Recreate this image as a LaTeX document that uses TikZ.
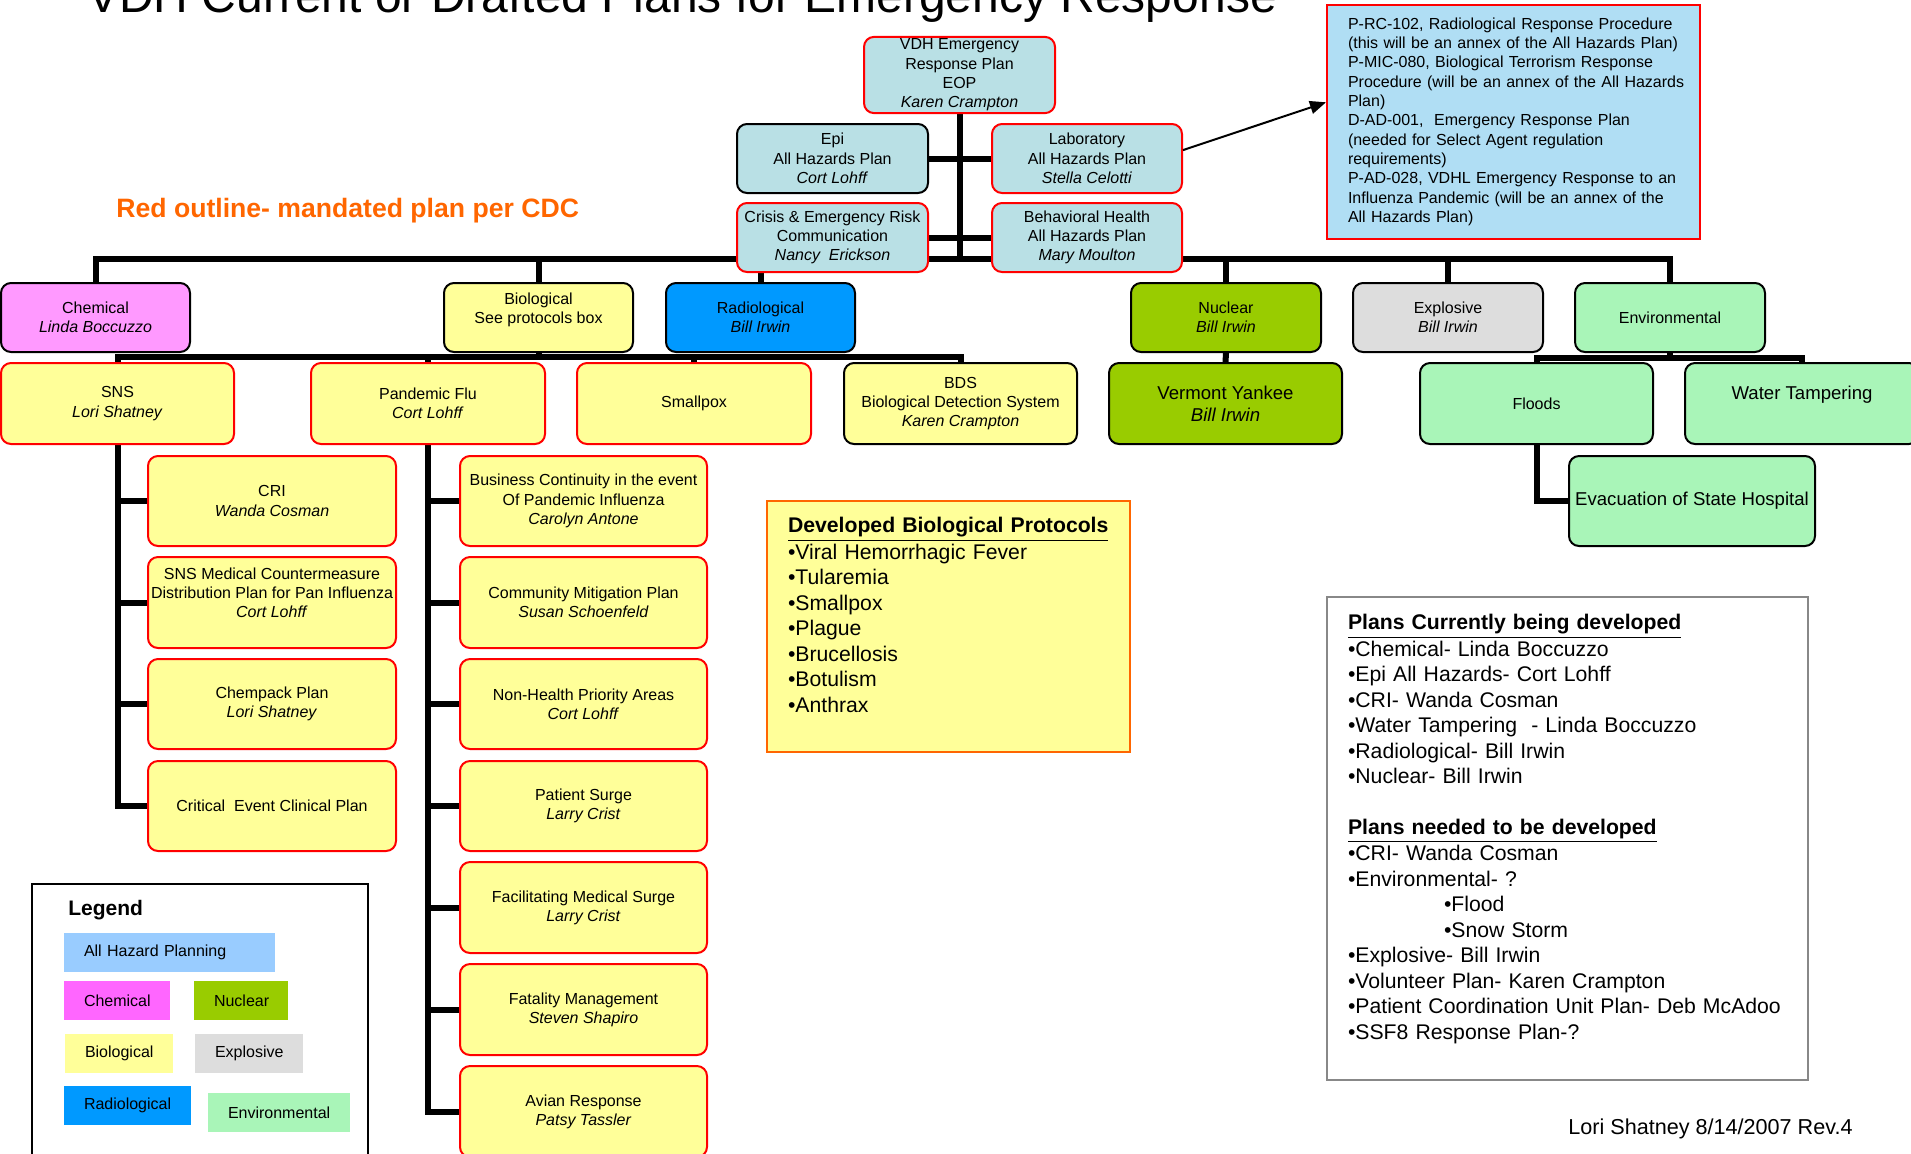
\documentclass[tikz,border=0pt]{standalone}
\usepackage{fontspec}
\setmainfont{Liberation Sans}
\usetikzlibrary{arrows.meta,backgrounds}
\definecolor{tealc}{RGB}{185,224,229}
\definecolor{prcblue}{RGB}{176,222,244}
\definecolor{chemc}{RGB}{255,153,255}
\definecolor{bioc}{RGB}{255,255,153}
\definecolor{radc}{RGB}{0,153,255}
\definecolor{nucc}{RGB}{153,204,0}
\definecolor{expc}{RGB}{221,221,221}
\definecolor{envc}{RGB}{169,245,184}
\definecolor{legchem}{RGB}{255,102,255}
\definecolor{legall}{RGB}{153,204,255}
\definecolor{orangec}{RGB}{255,102,0}
\definecolor{redc}{RGB}{255,0,0}
\definecolor{grayc}{RGB}{136,136,136}
\tikzset{
  bx/.style={rounded corners=5pt, line width=1pt, align=center, inner sep=1pt,
             font=\fontsize{8}{9.65}\selectfont},
  rb/.style={bx, draw=redc},
  kb/.style={bx, draw=black},
  bigtxt/.style={font=\fontsize{9.3}{11}\selectfont},
  conn/.style={line width=3pt},
  swatch/.style={draw=none, inner ysep=0pt, font=\fontsize{8}{9.65}\selectfont},
  textpanel/.style={inner ysep=0pt},
}
\newcommand\pbox[7]{%
  \pgfmathsetlengthmacro\myBW{(#4-#2)*0.5pt}%
  \pgfmathsetlengthmacro\myBH{(#5-#3)*0.5pt}%
  \node[#6, minimum width=\myBW, minimum height=\myBH] (#1) at ({(#2+#4)/2},{(#3+#5)/2}) {#7};}
\newcommand\tbox[8]{%
  \pgfmathsetlengthmacro\myBW{(#4-#2)*0.5pt}%
  \pgfmathsetlengthmacro\myBH{(#5-#3)*0.5pt}%
  \pgfmathsetlengthmacro\myTW{(#4-#2-2*#7)*0.5pt}%
  \pgfmathsetlengthmacro\myIS{#7*0.5pt}%
  \node[#6, minimum width=\myBW, minimum height=\myBH, text width=\myTW, inner xsep=\myIS, align=left] (#1) at ({(#2+#4)/2},{(#3+#5)/2}) {#8};}
\begin{document}
\begin{tikzpicture}[x=0.5pt,y=-0.5pt]
\clip (0,0) rectangle (1911,1153);
\useasboundingbox (0,0) rectangle (1911,1153);

% title and notes
\node[anchor=base, inner sep=0, font=\fontsize{24}{28}\selectfont] (title) at (682,12) {VDH Current or Drafted Plans for Emergency Response};
\node[anchor=base west, inner sep=0, text=orangec, font=\fontsize{13.3}{16}\selectfont\bfseries] (rednote) at (116,217) {Red outline- mandated plan per CDC};
\node[anchor=base west, inner sep=0, font=\fontsize{10.8}{13}\selectfont] (author) at (1568,1134) {Lori Shatney 8/14/2007 Rev.4};

% top level
\pbox{root}{864}{37}{1055}{113}{rb, fill=tealc}{VDH Emergency\\Response Plan\\EOP\\\textit{Karen Crampton}}
\pbox{epi}{737}{124}{928}{193}{kb, fill=tealc}{Epi\\All Hazards Plan\\\textit{Cort Lohff}}
\pbox{lab}{992}{124}{1182}{193}{rb, fill=tealc}{Laboratory\\All Hazards Plan\\\textit{Stella Celotti}}
\pbox{crisis}{737}{203}{928}{272}{rb, fill=tealc}{Crisis \& Emergency Risk\\Communication\\\textit{Nancy\ \ Erickson}}
\pbox{behav}{992}{203}{1182}{272}{rb, fill=tealc}{Behavioral Health\\All Hazards Plan\\\textit{Mary Moulton}}

% procedures box
\tbox{prc}{1327}{5}{1700}{239}{textpanel, draw=redc, line width=1pt, fill=prcblue, font=\fontsize{8}{9.65}\selectfont}{21}{\begin{tabular}{@{}l@{}}P-RC-102, Radiological Response Procedure\\(this will be an annex of the All Hazards Plan)\\P-MIC-080, Biological Terrorism Response\\Procedure (will be an annex of the All Hazards\\Plan)\\D-AD-001,\ \ Emergency Response Plan\\(needed for Select Agent regulation\\requirements)\\P-AD-028, VDHL Emergency Response to an\\Influenza Pandemic (will be an annex of the\\All Hazards Plan)\end{tabular}}

% categories
\pbox{chem}{1}{283}{190}{352}{kb, fill=chemc}{Chemical\\\textit{Linda Boccuzzo}}
\pbox{bio}{444}{283}{633}{352}{kb, fill=bioc}{Biological\\See protocols box\\\mbox{}}
\pbox{rad}{666}{283}{855}{352}{kb, fill=radc}{Radiological\\\textit{Bill Irwin}}
\pbox{nuc}{1131}{283}{1321}{352}{kb, fill=nucc}{Nuclear\\\textit{Bill Irwin}}
\pbox{exp}{1353}{283}{1543}{352}{kb, fill=expc}{Explosive\\\textit{Bill Irwin}}
\pbox{env}{1575}{283}{1765}{352}{kb, fill=envc}{Environmental}

% second row
\pbox{sns}{1}{363}{234}{444}{rb, fill=bioc}{SNS\\\textit{Lori Shatney}}
\pbox{pan}{311}{363}{545}{444}{rb, fill=bioc}{Pandemic Flu\\\textit{Cort Lohff}}
\pbox{spx}{577}{363}{811}{444}{rb, fill=bioc}{Smallpox}
\pbox{bds}{844}{363}{1077}{444}{kb, fill=bioc}{BDS\\Biological Detection System\\\textit{Karen Crampton}}
\pbox{vy}{1109}{363}{1342}{444}{kb, fill=nucc, bigtxt}{Vermont Yankee\\\textit{Bill Irwin}}
\pbox{floods}{1420}{363}{1653}{444}{kb, fill=envc}{Floods}
\pbox{water}{1685}{363}{1919}{444}{kb, fill=envc, bigtxt}{Water Tampering\\\mbox{}}
\pbox{evac}{1569}{456}{1815}{546}{kb, fill=envc, bigtxt}{Evacuation of State Hospital}

% SNS children
\pbox{cri}{148}{456}{396}{546}{rb, fill=bioc}{CRI\\\textit{Wanda Cosman}}
\pbox{snsmed}{148}{557}{396}{648}{rb, fill=bioc}{SNS Medical Countermeasure\\Distribution Plan for Pan Influenza\\\textit{Cort Lohff}\\\mbox{}}
\pbox{chempack}{148}{659}{396}{749}{rb, fill=bioc}{Chempack Plan\\\textit{Lori Shatney}}
\pbox{critical}{148}{761}{396}{851}{rb, fill=bioc}{Critical\ \ Event Clinical Plan}

% Pandemic children
\pbox{business}{460}{456}{707}{546}{rb, fill=bioc}{Business Continuity in the event\\Of Pandemic Influenza\\\textit{Carolyn Antone}}
\pbox{community}{460}{557}{707}{648}{rb, fill=bioc}{Community Mitigation Plan\\\textit{Susan Schoenfeld}}
\pbox{nonhealth}{460}{659}{707}{749}{rb, fill=bioc}{Non-Health Priority Areas\\\textit{Cort Lohff}}
\pbox{psurge}{460}{761}{707}{851}{rb, fill=bioc}{Patient Surge\\\textit{Larry Crist}}
\pbox{facil}{460}{862}{707}{953}{rb, fill=bioc}{Facilitating Medical Surge\\\textit{Larry Crist}}
\pbox{fatal}{460}{964}{707}{1055}{rb, fill=bioc}{Fatality Management\\\textit{Steven Shapiro}}
\pbox{avian}{460}{1066}{707}{1157}{rb, fill=bioc}{Avian Response\\\textit{Patsy Tassler}}

% protocols box
\tbox{protocols}{767}{501}{1130}{752}{textpanel, draw=orangec, line width=1pt, fill=bioc, font=\fontsize{10.6}{12.75}\selectfont}{21}{\begin{tabular}{@{}l@{}}\underline{\textbf{Developed Biological Protocols}}\\•Viral Hemorrhagic Fever\\•Tularemia\\•Smallpox\\•Plague\\•Brucellosis\\•Botulism\\•Anthrax\\[9pt]\end{tabular}}

% plans box
\tbox{plans}{1327}{597}{1808}{1080}{textpanel, draw=grayc, line width=0.8pt, font=\fontsize{10.6}{12.75}\selectfont}{21}{\begin{tabular}{@{}l@{}}\underline{\textbf{Plans Currently being developed}}\\•Chemical- Linda Boccuzzo\\•Epi All Hazards- Cort Lohff\\•CRI- Wanda Cosman\\•Water Tampering\ \ - Linda Boccuzzo\\•Radiological- Bill Irwin\\•Nuclear- Bill Irwin\\[12.75pt]\underline{\textbf{Plans needed to be developed}}\\•CRI- Wanda Cosman\\•Environmental- ?\\\hspace*{48pt}•Flood\\\hspace*{48pt}•Snow Storm\\•Explosive- Bill Irwin\\•Volunteer Plan- Karen Crampton\\•Patient Coordination Unit Plan- Deb McAdoo\\•SSF8 Response Plan-?\\[9pt]\end{tabular}}

% legend
\pbox{legend}{32}{884}{368}{1170}{draw=black, line width=1pt, inner sep=0pt}{}
\node[anchor=base west, inner sep=0, font=\fontsize{10.5}{12.6}\selectfont\bfseries] (legendtitle) at (68,915) {Legend};
\tbox{lall}{64}{933}{275}{972}{swatch, fill=legall}{20}{All Hazard Planning}
\tbox{lchem}{64}{981}{170}{1020}{swatch, fill=legchem}{20}{Chemical}
\tbox{lnuc}{194}{981}{288}{1020}{swatch, fill=nucc}{20}{Nuclear}
\tbox{lbio}{65}{1034}{173}{1073}{swatch, fill=bioc}{20}{Biological}
\tbox{lexp}{195}{1034}{303}{1073}{swatch, fill=expc}{20}{Explosive}
\tbox{lrad}{64}{1086}{191}{1125}{swatch, fill=radc}{20}{Radiological}
\tbox{lenv}{208}{1093}{350}{1132}{swatch, fill=envc}{20}{Environmental}

% connectors
\begin{scope}[on background layer]
\coordinate (b1) at (0,259);
\coordinate (b2) at (0,357);
\coordinate (b3) at (0,358);
\draw[conn] (root.south) -- (root.south |- b1);
\draw[conn] (epi.east) -- (lab.west);
\draw[conn] (crisis.east) -- (behav.west);
\draw[conn] (chem.north) |- (env.north |- b1) -- (env.north);
\draw[conn] (bio.north) -- (bio.north |- b1);
\draw[conn] (rad.north) -- (rad.north |- b1);
\draw[conn] (nuc.north) -- (nuc.north |- b1);
\draw[conn] (exp.north) -- (exp.north |- b1);
\draw[conn] (sns.north) |- (bds.north |- b2) -- (bds.north);
\draw[conn] (bio.south) -- (bio.south |- b2);
\draw[conn] (pan.north) -- (pan.north |- b2);
\draw[conn] (spx.north) -- (spx.north |- b2);
\draw[conn] (nuc.south) -- (vy.north);
\draw[conn] (floods.north) |- (water.north |- b3) -- (water.north);
\draw[conn] (env.south) -- (env.south |- b3);
\draw[conn] (floods.south) |- (evac.west);
\draw[conn] (sns.south) |- (critical.west);
\draw[conn] (sns.south |- cri.west) -- (cri.west);
\draw[conn] (sns.south |- snsmed.west) -- (snsmed.west);
\draw[conn] (sns.south |- chempack.west) -- (chempack.west);
\draw[conn] (pan.south) |- (avian.west);
\draw[conn] (pan.south |- business.west) -- (business.west);
\draw[conn] (pan.south |- community.west) -- (community.west);
\draw[conn] (pan.south |- nonhealth.west) -- (nonhealth.west);
\draw[conn] (pan.south |- psurge.west) -- (psurge.west);
\draw[conn] (pan.south |- facil.west) -- (facil.west);
\draw[conn] (pan.south |- fatal.west) -- (fatal.west);
\end{scope}
\draw[line width=1pt, -{Triangle[length=8pt,width=6.5pt]}] (lab.5) -- (prc.174);
\end{tikzpicture}
\end{document}
